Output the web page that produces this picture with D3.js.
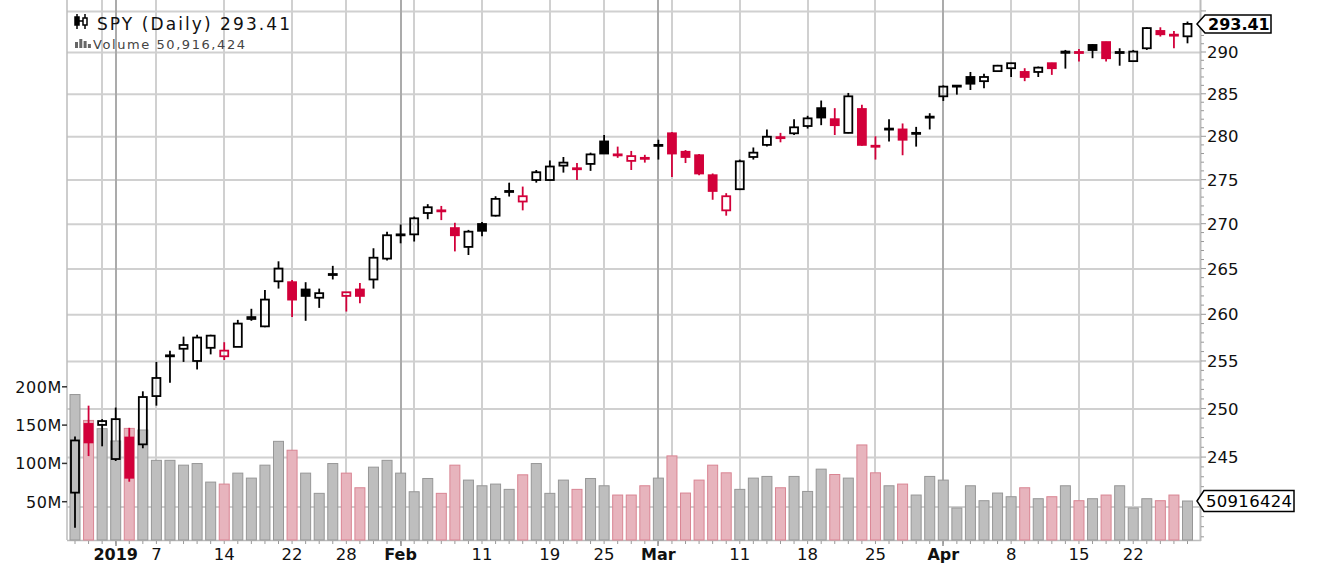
<!DOCTYPE html>
<html>
<head>
<meta charset="utf-8">
<script src="https://cdn.jsdelivr.net/npm/d3@7"></script>
<style>
  body { margin: 0; background: #fff; }
  svg { display: block; }
  text { font-family: "DejaVu Sans", Verdana, sans-serif; }
</style>
</head>
<body>
<svg id="chart" width="1318" height="566"></svg>
<script>
var symbol = "SPY";
var dates = [
  "2018-12-27", "2018-12-28", "2018-12-31", "2019-01-02", "2019-01-03", "2019-01-04",
  "2019-01-07", "2019-01-08", "2019-01-09", "2019-01-10", "2019-01-11",
  "2019-01-14", "2019-01-15", "2019-01-16", "2019-01-17", "2019-01-18",
  "2019-01-22", "2019-01-23", "2019-01-24", "2019-01-25",
  "2019-01-28", "2019-01-29", "2019-01-30", "2019-01-31", "2019-02-01",
  "2019-02-04", "2019-02-05", "2019-02-06", "2019-02-07", "2019-02-08",
  "2019-02-11", "2019-02-12", "2019-02-13", "2019-02-14", "2019-02-15",
  "2019-02-19", "2019-02-20", "2019-02-21", "2019-02-22",
  "2019-02-25", "2019-02-26", "2019-02-27", "2019-02-28", "2019-03-01",
  "2019-03-04", "2019-03-05", "2019-03-06", "2019-03-07", "2019-03-08",
  "2019-03-11", "2019-03-12", "2019-03-13", "2019-03-14", "2019-03-15",
  "2019-03-18", "2019-03-19", "2019-03-20", "2019-03-21", "2019-03-22",
  "2019-03-25", "2019-03-26", "2019-03-27", "2019-03-28", "2019-03-29",
  "2019-04-01", "2019-04-02", "2019-04-03", "2019-04-04", "2019-04-05",
  "2019-04-08", "2019-04-09", "2019-04-10", "2019-04-11", "2019-04-12",
  "2019-04-15", "2019-04-16", "2019-04-17", "2019-04-18",
  "2019-04-22", "2019-04-23", "2019-04-24", "2019-04-25", "2019-04-26"
];
var openPx = [
  241.4, 248.4, 248.3, 244.8, 247.0, 246.3,
  251.3, 255.5, 256.3, 255.0, 256.4,
  255.5, 256.5, 259.5, 258.7, 263.6,
  263.5, 262.7, 261.8, 264.3,
  262.0, 262.7, 263.8, 266.1, 268.7,
  268.8, 271.2, 271.5, 269.5, 267.4,
  269.96, 270.9, 273.6, 272.5, 274.95,
  274.95, 276.6, 276.3, 276.8,
  279.4, 277.9, 277.15, 277.5, 278.9,
  280.35, 278.2, 277.8, 275.5, 271.5,
  273.9, 277.6, 279.0, 279.9, 280.35,
  281.2, 283.3, 282.0, 280.4, 283.2,
  278.9, 280.8, 280.8, 280.3, 282.2,
  284.7, 285.9, 287.0, 286.5, 287.7,
  288.05, 287.6, 287.6, 288.65, 289.9,
  290.0, 290.85, 291.2, 289.9,
  288.9, 290.45, 292.55, 292.1, 291.9
];
var highPx = [
  247.1, 250.3, 248.9, 250.1, 248.0, 251.8,
  254.9, 256.1, 257.6, 257.8, 257.8,
  257.0, 259.4, 260.6, 262.65, 265.8,
  263.75, 263.5, 262.8, 265.3,
  262.4, 263.4, 267.25, 269.1, 269.9,
  270.8, 272.2, 272.0, 270.1, 269.3,
  270.2, 273.1, 274.65, 274.2, 276.1,
  277.2, 277.6, 276.9, 278.1,
  280.15, 278.8, 278.3, 277.85, 279.6,
  280.5, 278.4, 277.95, 275.7, 273.45,
  277.3, 278.7, 280.8, 280.4, 282.0,
  282.4, 284.2, 283.3, 285.1, 283.7,
  280.0, 282.0, 281.5, 281.1, 282.7,
  286.0, 286.0, 287.6, 287.4, 288.45,
  288.7, 288.05, 288.25, 288.7, 290.25,
  290.35, 290.95, 291.25, 290.45,
  290.25, 293.0, 293.0, 292.55, 293.7
];
var lowPx = [
  237.9, 245.1, 246.1, 244.6, 242.5, 245.9,
  250.3, 252.7, 254.9, 254.1, 255.7,
  255.1, 256.5, 259.3, 258.6, 262.8,
  259.7, 259.3, 260.7, 263.8,
  260.3, 261.2, 262.8, 265.9, 267.8,
  268.0, 270.5, 270.4, 266.9, 266.5,
  268.6, 270.8, 273.06, 271.5, 274.65,
  274.9, 275.8, 274.95, 276.0,
  277.95, 277.5, 276.1, 276.95, 277.3,
  275.3, 276.9, 275.5, 272.7, 270.9,
  273.8, 277.3, 278.8, 279.3, 280.15,
  280.9, 281.3, 280.15, 280.35, 278.9,
  277.3, 279.4, 277.8, 278.8, 280.8,
  284.15, 284.9, 285.45, 285.65, 287.6,
  287.0, 286.5, 287.0, 287.25, 288.0,
  288.85, 289.25, 288.85, 288.35,
  288.9, 290.25, 291.87, 290.45, 291.05
];
var closePx = [
  246.7, 246.5, 248.7, 248.9, 242.9, 251.2,
  253.2, 255.6, 256.7, 257.5, 257.7,
  256.1, 259.0, 259.7, 261.6, 265.0,
  261.6, 262.0, 262.3, 264.4,
  262.4, 262.0, 266.2, 268.7, 268.8,
  270.6, 271.85, 271.4, 268.7, 269.1,
  269.2, 272.8, 273.7, 273.1, 275.84,
  276.5, 276.95, 276.2, 277.9,
  278.0, 277.8, 277.7, 277.45, 279.0,
  278.0, 277.6, 275.7, 273.7, 273.1,
  277.1, 278.1, 279.95, 279.85, 281.05,
  282.1, 282.2, 281.3, 284.7, 279.0,
  278.8, 280.9, 279.6, 280.4, 282.3,
  285.85, 285.97, 286.2, 287.0, 288.35,
  288.65, 287.0, 288.12, 288.05, 290.05,
  289.98, 290.24, 289.25, 290.0,
  290.05, 292.9, 292.15, 292.05, 293.41
];
// volume in millions of shares
var volumeM = [
  189.9, 156.1, 145.3, 129.3, 145.7, 143.6,
  104.0, 104.0, 97.7, 99.8, 75.6,
  73.0, 87.3, 80.8, 97.7, 128.8,
  117.2, 87.3, 60.9, 99.8,
  87.3, 68.2, 95.1, 104.0, 87.3,
  63.0, 80.3, 60.9, 97.7, 78.2,
  70.8, 73.0, 66.1, 85.1, 99.8,
  60.9, 78.2, 66.1, 80.3,
  70.8, 58.7, 58.7, 70.8, 80.8,
  109.8, 61.3, 78.2, 97.7, 87.7,
  66.1, 80.8, 83.0, 68.2, 83.0,
  63.4, 92.5, 85.5, 80.8, 124.1,
  87.7, 70.8, 73.0, 58.7, 83.0,
  78.2, 41.8, 70.8, 51.3, 61.3,
  56.5, 68.2, 53.9, 56.5, 70.8,
  51.3, 53.9, 58.7, 70.8,
  41.8, 53.9, 51.3, 58.7, 50.916424
];

var priceTicks = [240, 245, 250, 255, 260, 265, 270, 275, 280, 285, 290, 295];
var volumeTicks = [50, 100, 150, 200];
var volumeTickLabels = ["50M", "100M", "150M", "200M"];
var xTickDates = ["2019-01-02", "2019-01-07", "2019-01-14", "2019-01-22", "2019-01-28",
  "2019-02-01", "2019-02-11", "2019-02-19", "2019-02-25", "2019-03-01", "2019-03-11",
  "2019-03-18", "2019-03-25", "2019-04-01", "2019-04-08", "2019-04-15", "2019-04-22"];
var xTickLabels = ["2019", "7", "14", "22", "28", "Feb", "11", "19", "25", "Mar", "11",
  "18", "25", "Apr", "8", "15", "22"];

var clrUp = "#000000";
var clrDown = "#d2003a";

var svg = d3.select("#chart");
var parse = d3.timeParse("%Y-%m-%d");
var days = dates.map(parse);
var n = dates.length;

var plotL = 67, plotR = 1200, plotT = 0, plotB = 540;

var x = d3.scaleLinear().domain([0, n - 1]).range([75, 1187.5]);
var y = d3.scaleLog().domain([240, 290]).range([506.6, 52]);
var yv = d3.scaleLinear().domain([0, 200]).range([plotB, 386.8]);

// week starts and month starts give the vertical grid
var gridIdx = [];
days.forEach(function (d, i) {
  if (i === 0) return;
  var p = days[i - 1];
  var monthStart = d.getMonth() !== p.getMonth();
  var weekStart = d.getDay() <= p.getDay();
  if (monthStart || weekStart) gridIdx.push({ i: i, month: monthStart });
});

// horizontal grid from the price axis itself, ticks stretched across the plot
var hGrid = svg.append("g")
  .attr("transform", "translate(" + plotR + ",0)")
  .call(d3.axisRight(y)
    .tickValues(priceTicks)
    .tickSize(-(plotR - plotL))
    .tickFormat(""));
hGrid.select(".domain").remove();
hGrid.selectAll(".tick line")
  .attr("stroke", "#d0d0d0")
  .attr("stroke-width", 2);

var grid = svg.append("g");
grid.selectAll("rect.v")
  .data(gridIdx)
  .enter().append("rect")
    .attr("class", "v")
    .attr("x", function (d) { return Math.round(x(d.i)) - 1; })
    .attr("width", 2)
    .attr("y", plotT)
    .attr("height", function (d) { return d.month ? plotB + 6 : plotB; })
    .style("fill", function (d) { return d.month ? "#ababab" : "#d0d0d0"; });

// frame
svg.append("line").attr("x1", plotL).attr("x2", plotL).attr("y1", plotT).attr("y2", plotB)
  .style("stroke", "#bcbcbc").style("stroke-width", 1.5);
svg.append("line").attr("x1", plotL).attr("x2", plotR + 1).attr("y1", plotB + 0.5).attr("y2", plotB + 0.5)
  .style("stroke", "#bcbcbc").style("stroke-width", 1.5);
svg.append("line").attr("x1", plotR + 0.5).attr("x2", plotR + 0.5).attr("y1", plotT).attr("y2", plotB + 1)
  .style("stroke", "#bcbcbc").style("stroke-width", 2);

// small ticks under every bar
svg.append("g").selectAll("line")
  .data(d3.range(n))
  .enter().append("line")
    .attr("x1", function (i) { return x(i); }).attr("x2", function (i) { return x(i); })
    .attr("y1", plotB + 1).attr("y2", plotB + 4)
    .style("stroke", "#999").style("stroke-width", 1);

function isUp(i) { return i === 0 || closePx[i] >= closePx[i - 1]; }

// volume
svg.append("g").selectAll("rect")
  .data(d3.range(n))
  .enter().append("rect")
    .attr("x", function (i) { return x(i) - 5; })
    .attr("width", 10)
    .attr("y", function (i) { return yv(volumeM[i]); })
    .attr("height", function (i) { return plotB - yv(volumeM[i]); })
    .style("fill", function (i) { return isUp(i) ? "#bebebe" : "#e7b4bd"; })
    .style("stroke", function (i) { return isUp(i) ? "#979797" : "#d98593"; })
    .style("stroke-width", 1);

// candles
var candles = svg.append("g").selectAll("g")
  .data(d3.range(n))
  .enter().append("g")
    .style("stroke", function (i) { return isUp(i) ? clrUp : clrDown; })
    .style("stroke-width", 1.8);
candles.append("line")
  .attr("x1", function (i) { return x(i); }).attr("x2", function (i) { return x(i); })
  .attr("y1", function (i) { return y(highPx[i]); })
  .attr("y2", function (i) { return y(Math.max(openPx[i], closePx[i])); });
candles.append("line")
  .attr("x1", function (i) { return x(i); }).attr("x2", function (i) { return x(i); })
  .attr("y1", function (i) { return y(Math.min(openPx[i], closePx[i])); })
  .attr("y2", function (i) { return y(lowPx[i]); });
candles.append("rect")
  .attr("x", function (i) { return x(i) - 4; })
  .attr("width", 8)
  .attr("y", function (i) { return y(Math.max(openPx[i], closePx[i])); })
  .attr("height", function (i) {
    return Math.max(1, Math.abs(y(openPx[i]) - y(closePx[i])));
  })
  .style("fill", function (i) {
    if (closePx[i] > openPx[i]) return "none";
    return isUp(i) ? clrUp : clrDown;
  });

// right price axis
svg.append("g").selectAll("line")
  .data(d3.range(237, 296))
  .enter().append("line")
    .attr("x1", plotR + 1).attr("x2", function (d) { return d % 5 === 0 ? plotR + 6 : plotR + 4; })
    .attr("y1", function (d) { return y(d); }).attr("y2", function (d) { return y(d); })
    .style("stroke", "#999").style("stroke-width", 1);
// labels hidden behind the two markers are left out
var lastY = y(closePx[n - 1]);
var lastV = yv(volumeM[n - 1]);
svg.append("g").selectAll("text")
  .data(priceTicks.filter(function (d) {
    return Math.abs(y(d) - lastY) > 16 && Math.abs(y(d) - lastV) > 16;
  }))
  .enter().append("text")
    .attr("x", 1207)
    .attr("y", function (d) { return y(d) + 6; })
    .style("font-size", "16.5px")
    .style("fill", "#111")
    .text(function (d) { return d; });

// left volume axis
svg.append("g").selectAll("line")
  .data(volumeTicks)
  .enter().append("line")
    .attr("x1", plotL - 5).attr("x2", plotL)
    .attr("y1", function (d) { return yv(d); }).attr("y2", function (d) { return yv(d); })
    .style("stroke", "#333").style("stroke-width", 1.5);
svg.append("g").selectAll("text")
  .data(volumeTicks)
  .enter().append("text")
    .attr("x", 62)
    .attr("y", function (d) { return yv(d) + 6; })
    .style("text-anchor", "end")
    .style("font-size", "16px")
    .style("letter-spacing", "0.6px")
    .style("fill", "#111")
    .text(function (d, i) { return volumeTickLabels[i]; });

// date labels, months and year in bold
function isMonthLabel(s) { return isNaN(+s) || s.length === 4; }
svg.append("g").selectAll("text")
  .data(xTickDates)
  .enter().append("text")
    .attr("x", function (d) { return x(dates.indexOf(d)); })
    .attr("y", 559.5)
    .style("text-anchor", "middle")
    .style("font-size", function (d, i) { return isMonthLabel(xTickLabels[i]) ? "16px" : "16.5px"; })
    .style("font-weight", function (d, i) { return isMonthLabel(xTickLabels[i]) ? "bold" : "normal"; })
    .style("fill", "#111")
    .text(function (d, i) { return xTickLabels[i]; });

// last price marker
svg.append("path")
  .attr("d", "M1197," + lastY + "L1205," + (lastY - 9) + "H1271V" + (lastY + 9) + "H1205Z")
  .style("fill", "#fff").style("stroke", "#000").style("stroke-width", 1.5);
svg.append("text")
  .attr("x", 1208).attr("y", lastY + 6)
  .style("font-size", "16px").style("font-weight", "bold")
  .text(closePx[n - 1].toFixed(2));

// last volume marker
svg.append("path")
  .attr("d", "M1197," + lastV + "L1204," + (lastV - 10.5) + "H1294V" + (lastV + 10.5) + "H1204Z")
  .style("fill", "#fff").style("stroke", "#000").style("stroke-width", 1.5);
svg.append("text")
  .attr("x", 1206).attr("y", lastV + 6.5)
  .style("font-size", "16.5px")
  .attr("textLength", 86).attr("lengthAdjust", "spacing")
  .text(Math.round(volumeM[n - 1] * 1e6));

// header with little icons
var icon = svg.append("g").style("stroke", "#000").style("stroke-width", 1.5);
icon.append("line").attr("x1", 77).attr("x2", 77).attr("y1", 14).attr("y2", 29);
icon.append("rect").attr("x", 75).attr("y", 17).attr("width", 4).attr("height", 8).style("fill", "#000");
icon.append("line").attr("x1", 85).attr("x2", 85).attr("y1", 14).attr("y2", 29);
icon.append("rect").attr("x", 83).attr("y", 18).attr("width", 4).attr("height", 7).style("fill", "#fff");
icon.append("line").attr("x1", 79).attr("x2", 83).attr("y1", 21).attr("y2", 21);
svg.append("text")
  .attr("x", 97).attr("y", 30)
  .style("font-size", "17px")
  .attr("textLength", 193).attr("lengthAdjust", "spacing")
  .style("fill", "#111")
  .text(symbol + " (Daily) " + closePx[n - 1].toFixed(2));

svg.append("g").selectAll("rect")
  .data([6, 9, 7, 4])
  .enter().append("rect")
    .attr("x", function (d, i) { return 75 + i * 4.3; })
    .attr("y", function (d) { return 48 - d; })
    .attr("width", 3).attr("height", function (d) { return d; })
    .style("fill", "#666");
svg.append("text")
  .attr("x", 93).attr("y", 48.5)
  .style("font-size", "13px")
  .attr("textLength", 152).attr("lengthAdjust", "spacing")
  .style("fill", "#444")
  .text("Volume " + d3.format(",")(Math.round(volumeM[n - 1] * 1e6)));
</script>
</body>
</html>
